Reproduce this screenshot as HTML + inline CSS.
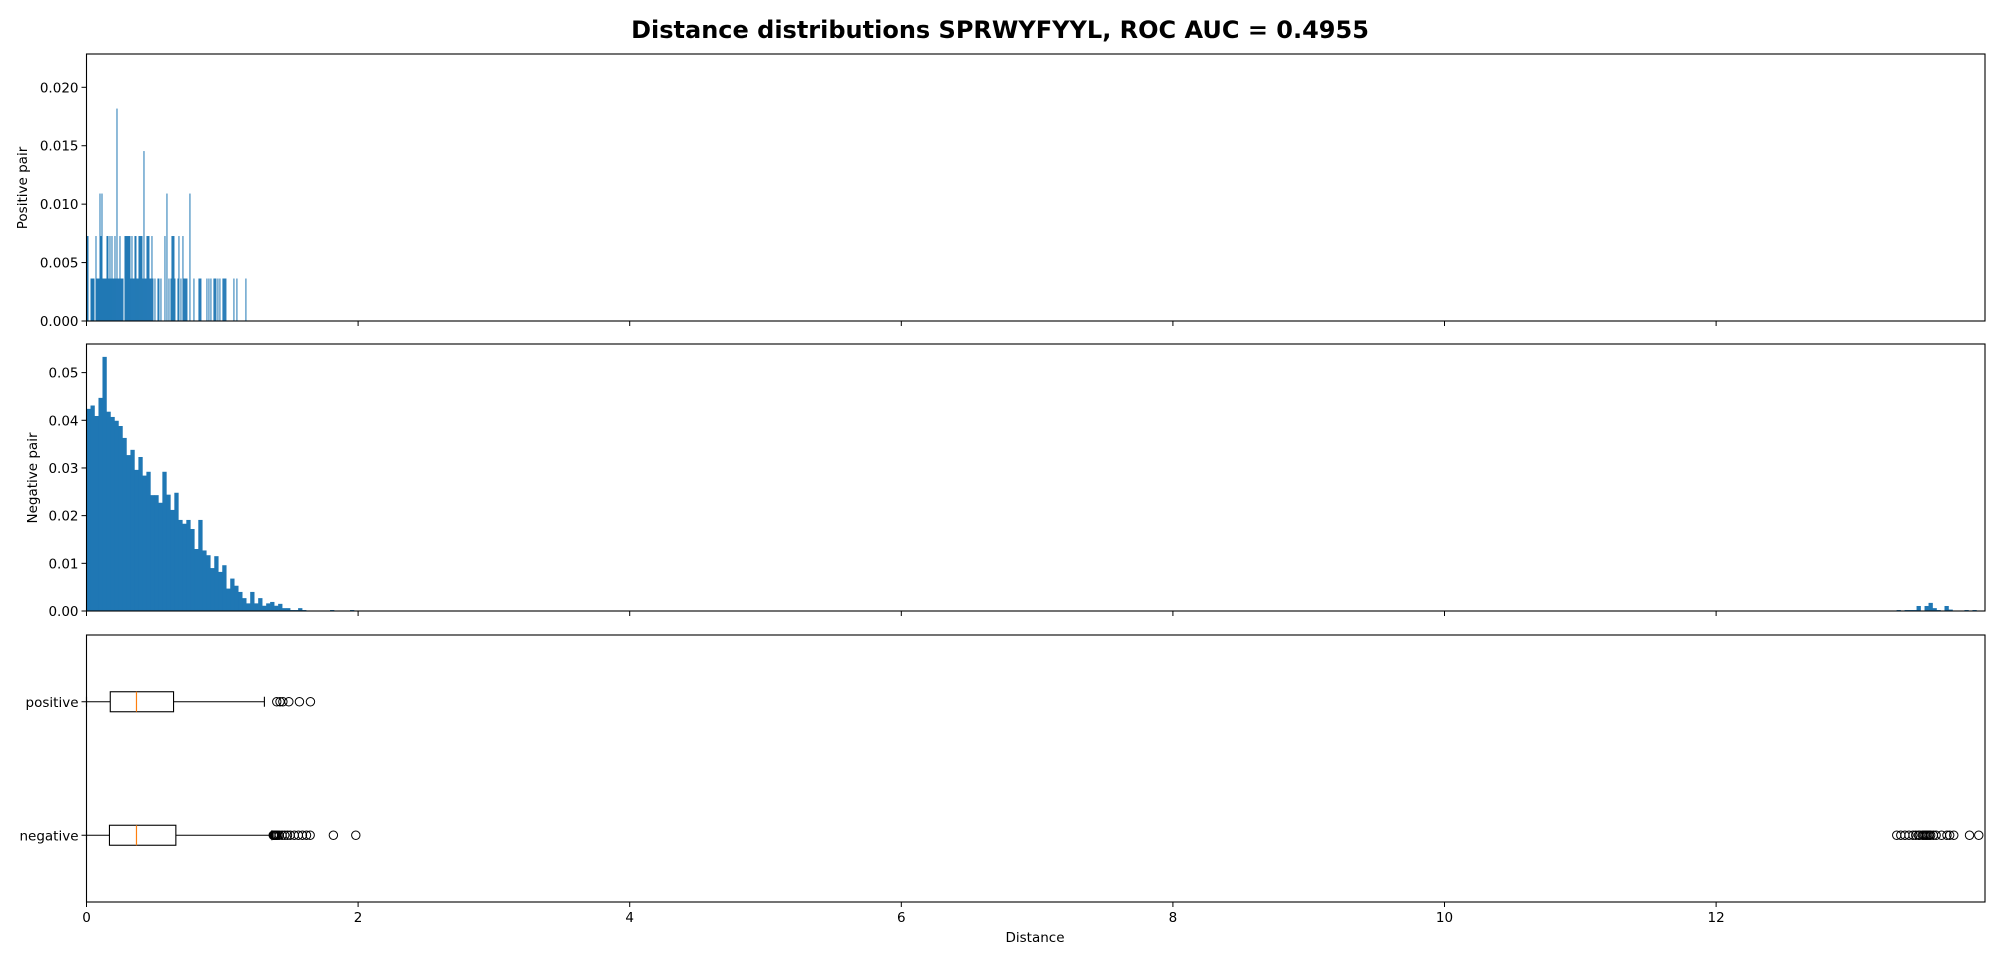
<!DOCTYPE html>
<html><head><meta charset="utf-8"><style>
html,body{margin:0;padding:0;background:#fff;}
svg{display:block;font-family:"DejaVu Sans","Liberation Sans",sans-serif;}
</style></head><body>
<svg id="chart" width="2000" height="960" viewBox="0 0 2000 960">
<text x="1000" y="38" text-anchor="middle" font-size="24" font-weight="bold">Distance distributions SPRWYFYYL, ROC AUC = 0.4955</text>
<g id="p1"></g>
<g id="p2"></g>
<g id="p3"></g>
<text x="1035" y="942" text-anchor="middle" font-size="13.5">Distance</text>
<text transform="translate(27,188) rotate(-90)" text-anchor="middle" font-size="13.5">Positive pair</text>
<text transform="translate(37,478) rotate(-90)" text-anchor="middle" font-size="13.5">Negative pair</text>
</svg>
<script>
// ---- data ----
const xTicks = [0, 2, 4, 6, 8, 10, 12];
const posTicks = [0, 0.005, 0.010, 0.015, 0.020];
const posTickLabels = ["0.000", "0.005", "0.010", "0.015", "0.020"];
const negTicks = [0, 0.01, 0.02, 0.03, 0.04, 0.05];
const negTickLabels = ["0.00", "0.01", "0.02", "0.03", "0.04", "0.05"];
const posBinWidth = 0.00736;
const posUnit = 0.003636;
const posCounts = [2,2,0,0,1,1,1,1,0,2,1,1,1,3,2,3,1,1,1,1,2,2,1,2,1,2,1,1,2,1,5,1,1,2,1,1,1,0,2,2,2,2,2,2,1,2,1,1,2,2,1,1,2,2,2,2,1,4,1,1,2,2,2,1,1,2,1,0,1,0,0,1,1,0,1,0,0,0,2,0,3,0,1,0,1,2,2,2,1,0,0,1,2,0,1,0,2,1,1,1,1,0,0,3,0,0,0,1,0,0,0,0,1,1,1,0,0,0,0,0,1,0,1,0,1,0,0,1,1,1,0,1,0,1,0,0,1,1,1,1,0,0,0,0,0,0,0,1,0,0,1,0,0,0,0,0,0,0,0,1];
const negBinWidth = 0.0294;
const negCounts = [0.0424,0.0431,0.0409,0.0447,0.0533,0.0418,0.0407,0.0399,0.0388,0.0363,0.0327,0.0338,0.0296,0.0323,0.0284,0.0292,0.0243,0.0243,0.0227,0.0292,0.0244,0.0212,0.0248,0.0191,0.0183,0.0191,0.0172,0.0130,0.0191,0.0127,0.0117,0.0090,0.0115,0.0082,0.0096,0.0047,0.0068,0.0053,0.0040,0.0027,0.0016,0.0040,0.0016,0.0027,0.0011,0.0016,0.0019,0.0011,0.0015,0.0006,0.0006,0.0002,0.0002,0.0006,0.0002,0,0,0,0,0,0,0.0002,0,0,0,0,0.0002];
const farStart = 13.329;
const farCounts = [0.0002,0,0.0002,0.0002,0.0002,0.00105,0,0.00105,0.0017,0.0006,0.0002,0,0.00105,0.0003,0,0,0,0.0002,0,0.0002];
const boxCategories = ["positive", "negative"];
const boxQ1 = [0.175, 0.169];
const boxMedian = [0.368, 0.368];
const boxQ3 = [0.641, 0.658];
const whiskerLow = [0.0, 0.0];
const whiskerHigh = [1.31, 1.365];
const posOutliers = [1.401, 1.425, 1.446, 1.49, 1.568, 1.649];
const negOutliers = [1.375,1.38,1.385,1.39,1.395,1.40,1.41,1.42,1.44,1.46,1.48,1.50,1.53,1.56,1.59,1.62,1.647,1.818,1.983,13.33,13.36,13.39,13.42,13.45,13.47,13.49,13.50,13.52,13.53,13.54,13.55,13.56,13.57,13.58,13.60,13.62,13.66,13.70,13.72,13.75,13.866,13.934];

const NS = "http://www.w3.org/2000/svg";
const L = 86.5, R = 1985, XMAX = 13.98;
const xs = v => L + v / XMAX * (R - L);
function mk(parent, tag, attrs) {
  const e = document.createElementNS(NS, tag);
  for (const k in attrs) e.setAttribute(k, attrs[k]);
  parent.appendChild(e);
  return e;
}
function frame(g, top, bot, showLabels) {
  mk(g, "rect", {x: L, y: top, width: R - L, height: bot - top, fill: "none", stroke: "#000", "stroke-width": 1.1});
  xTicks.forEach(t => {
    const tk = mk(g, "line", {x1: xs(t), x2: xs(t), y1: bot, y2: bot + 5, stroke: "#000", "stroke-width": 1});
    
    
    if (showLabels) {
      const tx = mk(g, "text", {x: xs(t), y: bot + 20, "text-anchor": "middle", "font-size": 13.5});
      tx.textContent = String(t);
      
      
    }
  });
}
function yAxis(g, top, bot, ymax, ticks, labels) {
  const ys = v => bot - v / ymax * (bot - top);
  ticks.forEach((t, i) => {
    mk(g, "line", {x1: L - 5, x2: L, y1: ys(t), y2: ys(t), stroke: "#000", "stroke-width": 1});
    const tx = mk(g, "text", {x: L - 8, y: ys(t) + 5, "text-anchor": "end", "font-size": 13.5});
    tx.textContent = labels[i];
    
    
  });
  return ys;
}
// Panel 1: positive histogram
(function () {
  const g = document.getElementById("p1");
  const top = 54, bot = 321, ymax = 0.02285;
  const ys = v => bot - v / ymax * (bot - top);
  posCounts.forEach((c, i) => {
    if (!c) return;
    const x0 = xs(i * posBinWidth), x1 = xs((i + 1) * posBinWidth);
    const b = mk(g, "rect", {x: x0, y: ys(c * posUnit), width: Math.max(x1 - x0, 0.8), height: bot - ys(c * posUnit), fill: "#1f77b4"});
    
    
  });
  yAxis(g, top, bot, ymax, posTicks, posTickLabels);
  frame(g, top, bot, false);
})();
// Panel 2: negative histogram
(function () {
  const g = document.getElementById("p2");
  const top = 344, bot = 611, ymax = 0.0560;
  const ys = v => bot - v / ymax * (bot - top);
  function bar(x0v, v) {
    if (!v) return;
    const x0 = xs(x0v), x1 = xs(x0v + negBinWidth);
    const b = mk(g, "rect", {x: x0, y: ys(v), width: x1 - x0 + 0.3, height: bot - ys(v), fill: "#1f77b4"});
    
    
  }
  negCounts.forEach((v, i) => bar(i * negBinWidth, v));
  farCounts.forEach((v, i) => bar(farStart + i * negBinWidth, v));
  yAxis(g, top, bot, ymax, negTicks, negTickLabels);
  frame(g, top, bot, false);
})();
// Panel 3: boxplots
(function () {
  const g = document.getElementById("p3");
  const top = 635, bot = 902;
  const yc = pos => bot - (pos - 0.5) / 2 * (bot - top);
  boxCategories.forEach((cat, i) => {
    const y = yc(i === 0 ? 2 : 1);
    const h = 10;
    const grp = mk(g, "g", {});
    
    
    mk(grp, "line", {x1: xs(whiskerLow[i]), x2: xs(boxQ1[i]), y1: y, y2: y, stroke: "#000", "stroke-width": 1.1});
    mk(grp, "line", {x1: xs(boxQ3[i]), x2: xs(whiskerHigh[i]), y1: y, y2: y, stroke: "#000", "stroke-width": 1.1});
    mk(grp, "line", {x1: xs(whiskerLow[i]), x2: xs(whiskerLow[i]), y1: y - 5, y2: y + 5, stroke: "#000", "stroke-width": 1.1});
    mk(grp, "line", {x1: xs(whiskerHigh[i]), x2: xs(whiskerHigh[i]), y1: y - 5, y2: y + 5, stroke: "#000", "stroke-width": 1.1});
    mk(grp, "rect", {x: xs(boxQ1[i]), y: y - h, width: xs(boxQ3[i]) - xs(boxQ1[i]), height: 2 * h, fill: "none", stroke: "#000", "stroke-width": 1.1});
    mk(grp, "line", {x1: xs(boxMedian[i]), x2: xs(boxMedian[i]), y1: y - h, y2: y + h, stroke: "#ff7f0e", "stroke-width": 1.2});
    const outs = i === 0 ? posOutliers : negOutliers;
    outs.forEach(v => {
      const c = mk(grp, "circle", {cx: xs(v), cy: y, r: 4.2, fill: "none", stroke: "#000", "stroke-width": 1});
      
      
    });
    mk(g, "line", {x1: L - 5, x2: L, y1: y, y2: y, stroke: "#000", "stroke-width": 1});
    const tx = mk(g, "text", {x: L - 8, y: y + 5, "text-anchor": "end", "font-size": 13.5});
    tx.textContent = cat;
    
    
  });
  frame(g, top, bot, true);
})();
</script>
</body></html>
